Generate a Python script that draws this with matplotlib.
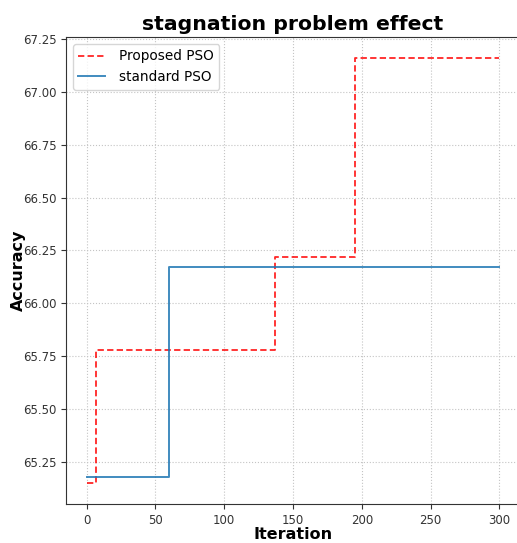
import matplotlib.pyplot as plt

# step breakpoints
proposed_iter = [0, 7, 137, 195, 300]
proposed_acc = [65.15, 65.78, 66.22, 67.16, 67.16]

standard_iter = [0, 60, 300]
standard_acc = [65.18, 66.17, 66.17]

yticks = [65.25, 65.50, 65.75, 66.00, 66.25, 66.50, 66.75, 67.00, 67.25]


def main():
    fig = plt.figure(figsize=(5.17, 5.43), dpi=100)
    ax = fig.add_axes([0.1277, 0.0718, 0.878, 0.860])

    ax.plot(proposed_iter, proposed_acc, "--", color="red", alpha=0.85,
            drawstyle="steps-post", linewidth=1.3, dashes=(3.5, 1.8),
            label="Proposed PSO")
    ax.plot(standard_iter, standard_acc, "-", color="#1f77b4", alpha=0.85,
            drawstyle="steps-post", linewidth=1.4, label="standard PSO")

    ax.set_xlim(-15, 315)
    ax.set_ylim(65.05, 67.26)
    ax.set_xticks([0, 50, 100, 150, 200, 250, 300])
    ax.set_yticks(yticks)
    ax.set_yticklabels([f"{v:.2f}" for v in yticks])
    ax.tick_params(labelsize=8.5, colors="#333333")

    ax.grid(True, linestyle=":", color="#c4c4c4", linewidth=0.8)
    for s in ax.spines.values():
        s.set_color("#333333")

    ax.set_title("stagnation problem effect", fontsize=14.7, fontweight="bold", pad=5)
    ax.set_xlabel("Iteration", fontsize=11.5, fontweight="bold", labelpad=0)
    ax.set_ylabel("Accuracy", fontsize=11.5, fontweight="bold", labelpad=-2)
    ax.legend(loc="upper left", fontsize=9.8, handletextpad=1.0)

    fig.savefig("out.png", dpi=100)


if __name__ == "__main__":
    main()
